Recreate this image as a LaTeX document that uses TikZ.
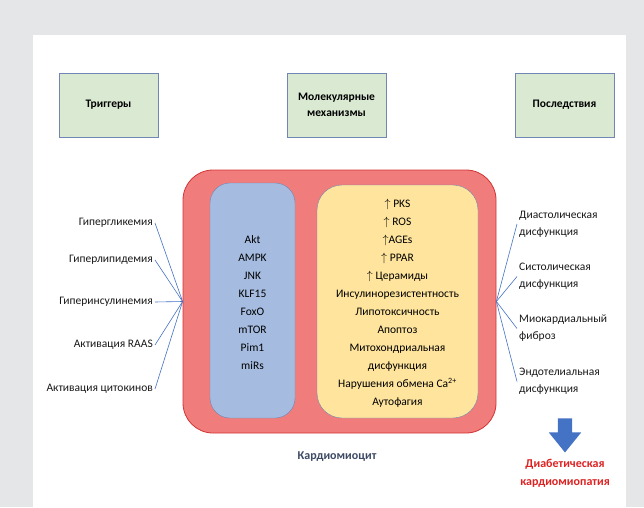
\documentclass[tikz,border=0pt]{standalone}
\usepackage{fontspec}
\setmainfont{Carlito}
\usetikzlibrary{shapes.arrows, positioning}
\definecolor{pagegray}{RGB}{229, 230, 232}
\definecolor{headgreen}{RGB}{218, 234, 210}
\definecolor{edgeblue}{RGB}{112, 134, 180}
\definecolor{cellred}{RGB}{240, 124, 124}
\definecolor{cellborder}{RGB}{212, 52, 52}
\definecolor{pathblue}{RGB}{165, 188, 224}
\definecolor{mechyellow}{RGB}{254, 228, 156}
\definecolor{linkblue}{RGB}{68, 114, 196}
\definecolor{outcomered}{RGB}{222, 34, 34}
\definecolor{slate}{RGB}{62, 74, 100}

\begin{document}
\begin{tikzpicture}[x=1pt, y=1pt,
            header/.style={draw=edgeblue, fill=headgreen, minimum width=99pt, minimum height=64pt, align=center, font=\fontsize{11.5}{16}\selectfont\bfseries},
            factor/.style={anchor=east, inner sep=2pt, text=black!90, font=\fontsize{11.5}{17}\selectfont},
            effect/.style={anchor=west, inner sep=2pt, align=left, text=black!90, font=\fontsize{11.5}{17}\selectfont},
            inbox/.style={align=center, text=black, font=\fontsize{11.5}{18}\selectfont},
            link/.style={linkblue, line width=0.6pt}
        ]
            % page
            \fill[pagegray] (0,0) rectangle (644,507);
            \fill[white] (33,0) rectangle (626,472);
            \useasboundingbox (0,0) rectangle (644,507);

            % column headers
            \node[header] (triggers) at (108.5,402) {Триггеры};
            \node[header] (mechanisms) at (336.5,402) {Молекулярные\\механизмы};
            \node[header] (outcomes) at (564.5,402) {Последствия};

            % cardiomyocyte
            \node[draw=cellborder, fill=cellred, line width=0.8pt, rounded corners=30pt, minimum width=313pt, minimum height=263pt] (cell) at (339.5,205.5) {};
            \node[draw=edgeblue, fill=pathblue, rounded corners=20pt, minimum width=85pt, minimum height=235pt] (pathbox) at (252.5,206.5) {};
            \node[draw=edgeblue, fill=mechyellow, rounded corners=25pt, minimum width=161pt, minimum height=233pt] (mechbox) at (397.5,205.5) {};

            \node[inbox] (pathways) at (pathbox.center) [yshift=-2pt] {Akt\\AMPK\\JNK\\KLF15\\FoxO\\mTOR\\Pim1\\miRs};
            \node[inbox] (mechlist) at (mechbox.center) [yshift=-2pt] {$\uparrow$ PKS\\$\uparrow$ ROS\\$\uparrow$AGEs\\$\uparrow$ PPAR\\$\uparrow$ Церамиды\\Инсулинорезистентность\\Липотоксичность\\Апоптоз\\Митохондриальная\\дисфункция\\Нарушения обмена Ca\textsuperscript{2+}\\Аутофагия};

            \node[text=slate, font=\fontsize{12}{14}\selectfont\bfseries] (cellname) at (337,50) {Кардиомиоцит};

            % triggers
            \node[factor] (glyc) at (155,284) {Гипергликемия};
            \node[factor] (lipid) at (155,247) {Гиперлипидемия};
            \node[factor] (insul) at (155,205) {Гиперинсулинемия};
            \node[factor] (raas) at (155,162) {Активация RAAS};
            \node[factor] (cyto) at (155,118) {Активация цитокинов};

            \foreach \n in {glyc, lipid, insul, raas, cyto}
                \draw[link] (\n.east) -- (cell.west);

            % outcomes
            \node[effect] (diast) at (517,283) {Диастолическая\\дисфункция};
            \node[effect] (syst) at (517,230.5) {Систолическая\\дисфункция};
            \node[effect] (fibr) at (517,178.5) {Миокардиальный\\фиброз};
            \node[effect] (endo) at (517,125.5) {Эндотелиальная\\дисфункция};

            \foreach \n in {diast, syst, fibr, endo}
                \draw[link] (cell.east) -- (\n.west);

            \node[single arrow, fill=linkblue, draw=none, shape border rotate=270, inner sep=7pt, minimum height=34pt, single arrow head extend=9pt, single arrow tip angle=78] (down) at (565,76) {};
            \node[below=3pt of down, align=center, text=outcomered, font=\fontsize{12}{18}\selectfont\bfseries] (dcm) {Диабетическая\\кардиомиопатия};
        \end{tikzpicture}
\end{document}
